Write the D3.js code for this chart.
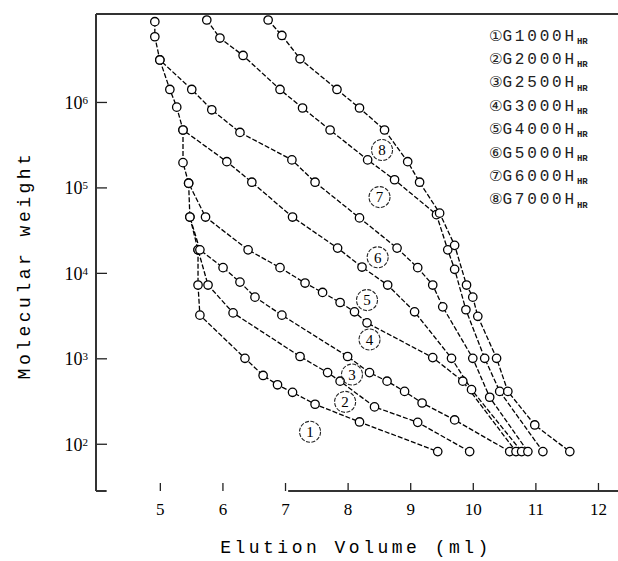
<!DOCTYPE html>
<html>
<head>
<meta charset="utf-8">
<script src="https://cdn.jsdelivr.net/npm/d3@7"></script>
<style>
body { margin: 0; background: #fff; }
</style>
</head>
<body>
<div id="chart"></div>
<script>
// calibration curves: [elution volume (ml), molecular weight]
const g1000 = [[5.61,18600],[5.61,7200],[5.64,3200],[6.36,1000],[6.65,630],[6.88,490],[7.12,400],[7.48,290],[8.19,180],[9.44,81]];
const g2000 = [[5.48,45000],[5.61,18600],[5.77,7200],[6.17,3400],[7.24,1050],[7.68,680],[7.88,540],[8.43,270],[9.12,178],[9.95,81]];
const g2500 = [[5.46,112000],[5.48,45000],[5.64,18600],[6.01,11500],[6.28,7800],[6.52,5200],[6.95,3200],[8.00,1050],[8.35,680],[8.63,540],[8.91,410],[9.19,300],[9.71,190],[10.59,81]];
const g3000 = [[5.37,470000],[5.37,195000],[5.46,112000],[5.73,45000],[6.41,18600],[6.92,11500],[7.32,7600],[7.60,5900],[7.88,4500],[8.11,3500],[8.31,2600],[9.36,1020],[9.84,540],[10.69,81]];
const g4000 = [[5.00,3100000],[5.16,1400000],[5.27,870000],[5.37,470000],[6.07,200000],[6.47,115000],[7.12,45000],[7.84,19500],[8.23,11700],[8.64,7200],[9.07,3500],[9.66,1000],[9.98,430],[10.78,81]];
const g5000 = [[4.92,8700000],[4.92,5800000],[5.00,3100000],[5.51,1400000],[5.83,810000],[6.28,440000],[7.11,210000],[7.48,115000],[8.19,44000],[8.79,19500],[9.12,11500],[9.36,7200],[9.52,4000],[10.00,1000],[10.27,350],[10.88,81]];
const g6000 = [[5.75,9100000],[5.96,5600000],[6.33,3500000],[6.92,1400000],[7.28,850000],[7.72,470000],[8.32,210000],[8.75,123000],[9.42,48000],[9.60,18600],[9.71,11000],[9.89,3700],[10.19,1000],[10.43,410],[11.12,81]];
const g7000 = [[6.73,9100000],[6.95,6000000],[7.24,3200000],[7.83,1400000],[8.19,850000],[8.59,470000],[8.96,200000],[9.15,115000],[9.47,50000],[9.71,21000],[9.90,7200],[10.00,5200],[10.08,3100],[10.38,1000],[10.56,410],[10.99,166],[11.55,81]];

const series = [g1000, g2000, g2500, g3000, g4000, g5000, g6000, g7000];
const seriesNames = ["G1000H", "G2000H", "G2500H", "G3000H", "G4000H", "G5000H", "G6000H", "G7000H"];
const seriesSub = "HR";
const circled = ["①", "②", "③", "④", "⑤", "⑥", "⑦", "⑧"];
// where the circled number sits next to each curve
const labelAt = [[7.40,138],[7.96,309],[8.07,646],[8.35,1660],[8.31,4800],[8.48,15200],[8.51,77000],[8.55,274000]];

const xTicks = [5, 6, 7, 8, 9, 10, 11, 12];
const yTicks = [1e2, 1e3, 1e4, 1e5, 1e6];

const W = 618, H = 561;
const margin = { top: 14, right: 0, bottom: 70, left: 96 };
const width = W - margin.left - margin.right;
const height = H - margin.top - margin.bottom;

const svg = d3.select("#chart").append("svg")
    .attr("width", W)
    .attr("height", H);

const g = svg.append("g")
    .attr("transform", `translate(${margin.left},${margin.top})`);

const x = d3.scaleLinear().domain([3.98, 12.32]).range([0, width]);
const y = d3.scaleLog().domain([28, 1.07e7]).range([height, 0]);

// axes
const xAxis = g.append("g")
    .attr("transform", `translate(0,${height})`)
    .call(d3.axisBottom(x).tickValues(xTicks).tickSize(-8).tickPadding(12).tickFormat(d3.format("d")));
xAxis.select(".domain").remove();
xAxis.selectAll("text")
    .attr("fill", "#000")
    .style("font-family", "'Liberation Serif', serif")
    .style("font-size", "17px");

const yAxis = g.append("g")
    .call(d3.axisLeft(y).tickValues(yTicks).tickSize(-11).tickFormat(() => ""));
yAxis.select(".domain").remove();
yAxis.selectAll(".tick").append("text")
    .attr("x", -8)
    .attr("dy", "0.35em")
    .attr("text-anchor", "end")
    .attr("fill", "#000")
    .style("font-family", "'Liberation Serif', serif")
    .style("font-size", "18px")
    .each(function (d) {
        const t = d3.select(this);
        t.append("tspan").text("10");
        t.append("tspan").attr("dy", "-0.45em").style("font-size", "11px").text(Math.round(Math.log10(d)));
    });
g.selectAll(".tick line").attr("stroke", "#222").attr("stroke-width", 1.3);

// frame (the scan has a broken bottom line)
const frame = g.append("g").attr("stroke", "#333").attr("fill", "none");
frame.append("line").attr("x1", 0).attr("x2", 0).attr("y1", 0).attr("y2", height).attr("stroke-width", 2);
frame.append("line").attr("x1", 0).attr("x2", width).attr("y1", 0).attr("y2", 0).attr("stroke-width", 2);
frame.append("line").attr("x1", 0).attr("x2", x(4.15)).attr("y1", height).attr("y2", height).attr("stroke-width", 2);
frame.append("line").attr("x1", x(7.05)).attr("x2", width).attr("y1", height).attr("y2", height).attr("stroke-width", 2);

// curves
const line = d3.line()
    .x(d => x(d[0]))
    .y(d => y(d[1]));

g.selectAll(".curve")
    .data(series)
    .enter()
    .append("path")
    .attr("class", "curve")
    .attr("d", line)
    .attr("fill", "none")
    .attr("stroke", "#000")
    .attr("stroke-width", 1.3)
    .attr("stroke-dasharray", "5,2");

series.forEach(s => {
    g.selectAll(null)
        .data(s)
        .enter()
        .append("circle")
        .attr("cx", d => x(d[0]))
        .attr("cy", d => y(d[1]))
        .attr("r", 4.2)
        .attr("fill", "#fff")
        .attr("stroke", "#000")
        .attr("stroke-width", 1.3);
});

// circled numbers on the plot
const tags = g.selectAll(".tag")
    .data(labelAt)
    .enter()
    .append("g")
    .attr("class", "tag")
    .attr("transform", d => `translate(${x(d[0])},${y(d[1])})`);
tags.append("circle")
    .attr("r", 10.5)
    .attr("fill", "none")
    .attr("stroke", "#222")
    .attr("stroke-width", 1.1)
    .attr("stroke-dasharray", "4,1.5");
tags.append("text")
    .attr("text-anchor", "middle")
    .attr("dy", "0.35em")
    .attr("fill", "#000")
    .style("font-family", "'Liberation Serif', serif")
    .style("font-size", "15px")
    .text((d, i) => i + 1);

// legend
const legend = svg.append("g").attr("transform", "translate(489,35)");
seriesNames.forEach((name, i) => {
    const t = legend.append("text")
        .attr("y", i * 23.4)
        .attr("dy", "0.35em")
        .attr("fill", "#222")
        .style("font-family", "'Liberation Mono', monospace")
        .style("font-size", "16px");
    t.append("tspan").style("font-family", "'DejaVu Sans', sans-serif").style("font-size", "15px").text(circled[i]);
    t.append("tspan").attr("letter-spacing", "2.8px").text(name);
    t.append("tspan").attr("dy", "0.35em").attr("dx", "0").style("font-size", "9px").style("font-weight", "bold").text(seriesSub);
});

// axis titles
svg.append("text")
    .attr("x", 356)
    .attr("y", 553)
    .attr("text-anchor", "middle")
    .attr("letter-spacing", "3.5px")
    .style("font-family", "'Liberation Mono', monospace")
    .style("font-size", "18px")
    .text("Elution Volume (ml)");

svg.append("text")
    .attr("transform", "translate(30,265) rotate(-90)")
    .attr("text-anchor", "middle")
    .attr("letter-spacing", "3.5px")
    .style("font-family", "'Liberation Mono', monospace")
    .style("font-size", "18px")
    .text("Molecular weight");
</script>
</body>
</html>
